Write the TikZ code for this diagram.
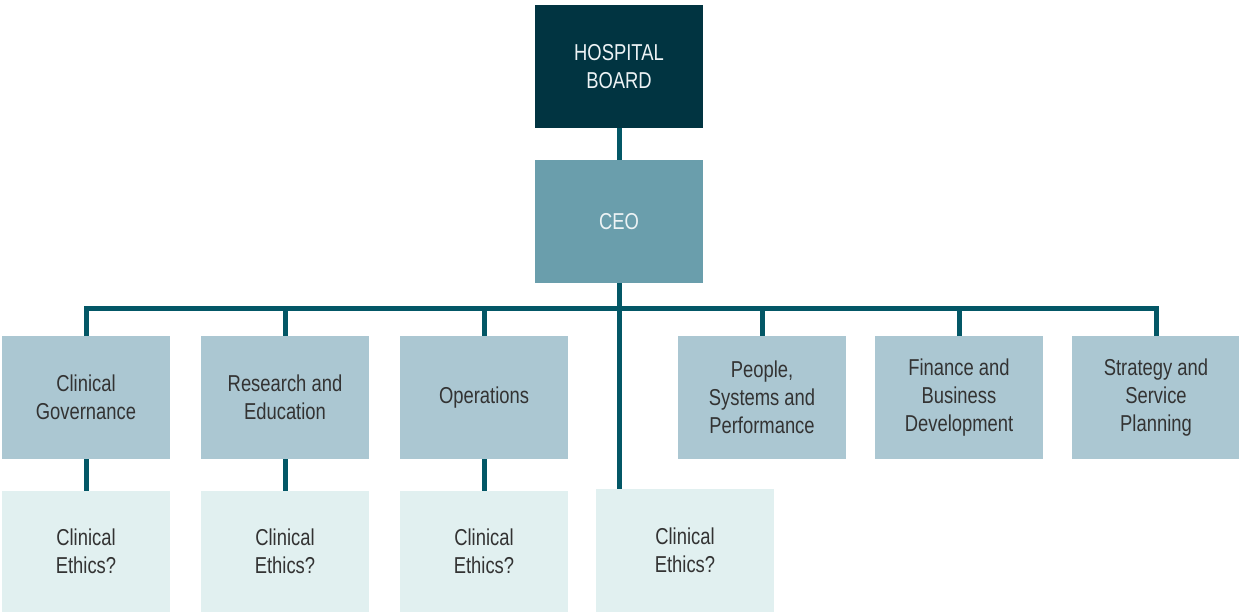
\documentclass[tikz,border=0pt]{standalone}
\usepackage{fontspec}
\setmainfont{Liberation Sans}[FakeStretch=0.8]
\usepackage{xcolor}
\usetikzlibrary{positioning}
\definecolor{boardteal}{HTML}{013441}
\definecolor{ceoteal}{HTML}{6A9EAC}
\definecolor{deptblue}{HTML}{ABC7D2}
\definecolor{ethicsmint}{HTML}{E1F0F0}
\definecolor{linkteal}{HTML}{035766}
\definecolor{labelgray}{HTML}{333333}

\begin{document}
\begin{tikzpicture}[x=1pt, y=1pt,
    orgbox/.style={minimum width=168pt, minimum height=123pt, inner sep=0pt, align=center,
      font=\fontsize{23}{28}\selectfont},
    topbox/.style={orgbox, fill=boardteal, text=white!88!ceoteal},
    ceobox/.style={orgbox, fill=ceoteal, text=white!88!ceoteal},
    deptbox/.style={orgbox, fill=deptblue, text=labelgray},
    ethicsbox/.style={orgbox, fill=ethicsmint, text=labelgray},
    link/.style={draw=linkteal, line width=5pt}]
        \useasboundingbox (0,0) rectangle (1239,612);
        % top of the chart
        \node[topbox] (board) at (619,545.5) {HOSPITAL\\BOARD};
        \node[ceobox] (ceo) at (619,390.5) {CEO};
        % departments
        \node[deptbox] (govern) at (86,214.5) {Clinical\\Governance};
        \node[deptbox] (research) at (285,214.5) {Research and\\Education};
        \node[deptbox] (ops) at (484,214.5) {Operations};
        \node[deptbox] (people) at (762,214.5) {People,\\Systems and\\Performance};
        \node[deptbox] (finance) at (959,214.5) {Finance and\\Business\\Development};
        \node[deptbox] (strategy) at (1156,214.5) {Strategy and\\Service\\Planning};
        % clinical ethics, bottom row
        \node[ethicsbox, minimum height=121pt] (ethicsA) at (86,60.5) {Clinical\\Ethics?};
        \node[ethicsbox, minimum height=121pt] (ethicsB) at (285,60.5) {Clinical\\Ethics?};
        \node[ethicsbox, minimum height=121pt] (ethicsC) at (484,60.5) {Clinical\\Ethics?};
        \node[ethicsbox, minimum width=178pt] (ethicsD) at (685,61.5) {Clinical\\Ethics?};
        \coordinate (bus) at (619,303);
        % connectors
        \draw[link] (board) -- (ceo);
        \draw[link] (ceo.south) -- (ethicsD.north -| ceo.south);
        \draw[link] (govern.north) |- (bus) -| (strategy.north);
        \foreach \dept in {research, ops, people, finance}
          \draw[link] (bus -| \dept.north) -- (\dept.north);
        \draw[link] (govern) -- (ethicsA);
        \draw[link] (research) -- (ethicsB);
        \draw[link] (ops) -- (ethicsC);
      \end{tikzpicture}
\end{document}
